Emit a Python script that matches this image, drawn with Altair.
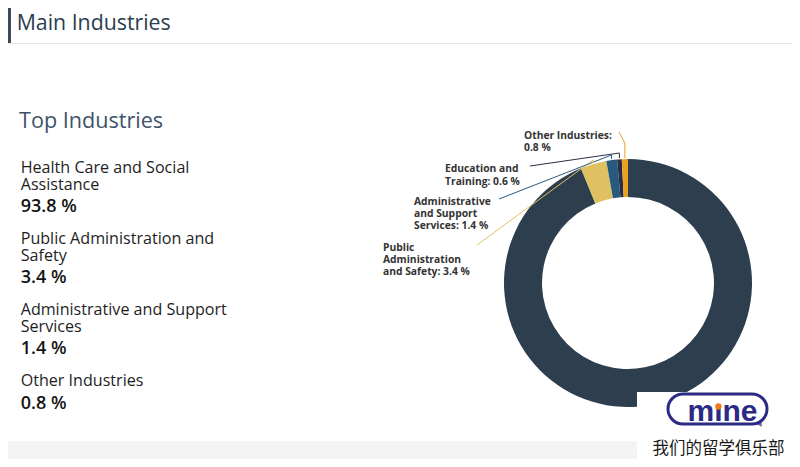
import textwrap
import altair as alt
import pandas as pd

# ---------------- data ----------------
INDUSTRIES = [
    "Health Care and Social Assistance",
    "Public Administration and Safety",
    "Administrative and Support Services",
    "Education and Training",
    "Other Industries",
]
SHARES = [93.8, 3.4, 1.4, 0.6, 0.8]
TOP_LIST = [0, 1, 2, 4]          # industries shown in the "Top Industries" list
LABELLED = [1, 2, 3, 4]          # slices that carry a data label

TITLE = "Main Industries"
SUBTITLE = "Top Industries"
LOGO_WORD = "mıne"
LOGO_TEXT = "我们的留学俱乐部"

# ---------------- styles / layout ----------------
COLORS = ["#2d3e4f", "#e0c162", "#285a80", "#2a2d45", "#e9a224"]
W, H = 784, 451
CX, CY, R_OUT, R_IN = 620, 275, 124, 86

LABEL_WRAP = {1: 17, 2: 15, 3: 16, 4: 17}
LABEL_POS = {1: (375, 242.7), 2: (406, 197.0), 3: (437, 164.3), 4: (516, 131.0)}
LABEL_LH = 12.2
LEADER_START = {1: (469, 237), 2: (491, 191), 3: (522, 158), 4: (611, 124)}
LEADER_ELBOW_Y = {1: 152, 2: 147, 3: 145, 4: 135}

LIST_X, LIST_TOP, LIST_STEP, LIST_LH, LIST_PCT = 12.7, 164.7, 71.1, 16.8, 22.5

FONT = "Open Sans"


def fmt(v):
    return f"{v:.1f} %"


def text_layer(df, **kw):
    base = dict(align="left", baseline="alphabetic", font=FONT)
    base.update(kw)
    return alt.Chart(df).mark_text(**base).encode(
        x=alt.X("x:Q", scale=None, axis=None),
        y=alt.Y("y:Q", scale=None, axis=None),
        text="text:N",
    )


def rect_layer(x, x2, y, y2, **kw):
    df = pd.DataFrame({"x": [x], "x2": [x2], "y": [y], "y2": [y2]})
    return alt.Chart(df).mark_rect(**kw).encode(
        x=alt.X("x:Q", scale=None, axis=None), x2="x2:Q",
        y=alt.Y("y:Q", scale=None, axis=None), y2="y2:Q",
    )


color_scale = alt.Scale(domain=INDUSTRIES, range=COLORS)

# ---------------- header ----------------
header_band = rect_layer(0, W, 0, 35, color="white")
header_bar = rect_layer(0, 3, 0, 35, color="#3b4b5b")
header_line = rect_layer(0, W, 35, 36, color="#e6e6e6")
title = text_layer(pd.DataFrame({"x": [8.7], "y": [21.8], "text": [TITLE]}),
                   fontSize=21.3, color="#2b3d4f")
bottom_band = rect_layer(0, W, 433, H, color="#f4f4f4")

# ---------------- left list ----------------
sub = text_layer(pd.DataFrame({"x": [11], "y": [120], "text": [SUBTITLE]}),
                 fontSize=21.6, color="#3e5368")
name_rows, pct_rows = [], []
for k, i in enumerate(TOP_LIST):
    y0 = LIST_TOP + LIST_STEP * k
    lines = textwrap.wrap(INDUSTRIES[i], 26)
    for j, ln in enumerate(lines):
        name_rows.append({"x": LIST_X, "y": y0 + j * LIST_LH, "text": ln})
    pct_rows.append({"x": LIST_X, "y": y0 + (len(lines) - 1) * LIST_LH + LIST_PCT,
                     "text": fmt(SHARES[i])})
names = text_layer(pd.DataFrame(name_rows), fontSize=16.1, color="#1e1e1e")
pcts = text_layer(pd.DataFrame(pct_rows), fontSize=18, fontWeight=600, color="#141414")

# ---------------- donut ----------------
donut_df = pd.DataFrame({"industry": INDUSTRIES, "share": SHARES, "ord": list(range(len(SHARES)))})
arc = alt.Chart(donut_df).mark_arc(radius=R_OUT, radius2=R_IN, strokeWidth=0).encode(
    theta=alt.Theta("share:Q", stack=True),
    order=alt.Order("ord:Q"),
    color=alt.Color("industry:N", scale=color_scale, legend=None),
    x=alt.value(CX), y=alt.value(CY),
)

# leader lines: end points from slice mid-angles
lead_df = donut_df.copy()
lead_df["sx"] = [LEADER_START[i][0] if i in LEADER_START else None for i in range(len(SHARES))]
lead_df["sy"] = [LEADER_START[i][1] if i in LEADER_START else None for i in range(len(SHARES))]
lead_df["ky"] = [LEADER_ELBOW_Y.get(i) for i in range(len(SHARES))]
lead_base = alt.Chart(lead_df).transform_window(
    cum="sum(share)", sort=[alt.SortField("ord")], frame=[None, 0]
).transform_joinaggregate(total="sum(share)").transform_calculate(
    mid="(datum.cum - datum.share / 2) / datum.total * 2 * PI",
    ex=f"{CX} + {R_OUT + 1} * sin(datum.mid)",
    ey=f"{CY} - {R_OUT + 1} * cos(datum.mid)",
).transform_filter("isValid(datum.sx)")
seg1 = lead_base.mark_rule(strokeWidth=1).encode(
    x=alt.X("sx:Q", scale=None, axis=None), y=alt.Y("sy:Q", scale=None, axis=None),
    x2="ex:Q", y2="ky:Q",
    color=alt.Color("industry:N", scale=color_scale, legend=None),
)
seg2 = lead_base.mark_rule(strokeWidth=1).encode(
    x=alt.X("ex:Q", scale=None, axis=None), y=alt.Y("ky:Q", scale=None, axis=None),
    x2="ex:Q", y2="ey:Q",
    color=alt.Color("industry:N", scale=color_scale, legend=None),
)

lab_rows = []
for i in LABELLED:
    lines = textwrap.wrap(f"{INDUSTRIES[i]}: {fmt(SHARES[i])}", LABEL_WRAP[i])
    x0, y0 = LABEL_POS[i]
    for j, ln in enumerate(lines):
        lab_rows.append({"x": x0, "y": y0 + j * LABEL_LH, "text": ln})
labels = text_layer(pd.DataFrame(lab_rows), fontSize=10.3, fontWeight="bold", color="#333333")

# ---------------- watermark ----------------
wm_box = rect_layer(629, W, 384, H, color="white")
wm_tail = alt.Chart(pd.DataFrame({"x": [752], "y": [416]})).mark_point(
    shape="triangle-down", size=60, filled=True, color="#2b2b85", angle=330).encode(
    x=alt.X("x:Q", scale=None, axis=None), y=alt.Y("y:Q", scale=None, axis=None))
wm_outline = rect_layer(660, 759, 386, 416, fill="white", stroke="#2b2b85",
                        strokeWidth=3, cornerRadius=15)
wm_word = text_layer(pd.DataFrame({"x": [714.5], "y": [412.5], "text": [LOGO_WORD]}),
                     align="center", font="Liberation Sans", fontWeight="bold",
                     fontSize=30, color="#2b2b85")
wm_dot = alt.Chart(pd.DataFrame({"x": [710.4], "y": [398.5]})).mark_circle(
    size=40, color="#f07a1a", opacity=1).encode(
    x=alt.X("x:Q", scale=None, axis=None), y=alt.Y("y:Q", scale=None, axis=None))
wm_text = text_layer(pd.DataFrame({"x": [710.5], "y": [448.5], "text": [LOGO_TEXT]}),
                     align="center", baseline="bottom", font="Noto Sans CJK SC",
                     fontSize=16.5, color="#1a1a1a")

chart = alt.layer(
    bottom_band, header_band, header_bar, header_line, title,
    sub, names, pcts,
    arc, seg1, seg2, labels,
    wm_box, wm_tail, wm_outline, wm_word, wm_dot, wm_text,
).properties(
    width=W, height=H, padding=0, autosize=alt.AutoSizeParams(type="none"),
    background="white",
).configure_view(stroke=None)

chart.save("out.html", embed_options={"renderer": "svg", "actions": False})
